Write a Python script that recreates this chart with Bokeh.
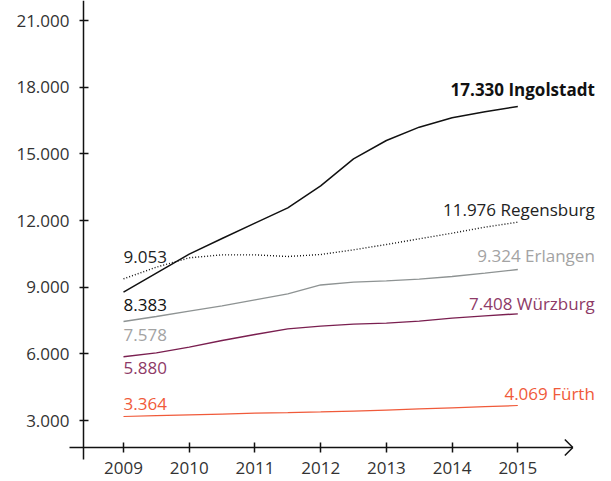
from bokeh.plotting import figure
from bokeh.models import ColumnDataSource, LabelSet, Arrow, FixedTicker
from bokeh.core.properties import value
from bokeh.embed import file_html
from bokeh.resources import INLINE

# ---- data (values read at half-year steps from the drawn curves) ----
t = [2009, 2009.5, 2010, 2010.5, 2011, 2011.5, 2012, 2012.5, 2013, 2013.5, 2014, 2014.5, 2015]
ingolstadt = [8775, 9630, 10485, 11190, 11880, 12570, 13560, 14775, 15600, 16200, 16620, 16890, 17130]
regensburg = [9375, 9900, 10320, 10455, 10455, 10380, 10470, 10680, 10920, 11175, 11430, 11700, 11925]
erlangen = [7455, 7680, 7920, 8160, 8430, 8700, 9100, 9225, 9285, 9360, 9480, 9630, 9795]
wuerzburg = [5866, 6045, 6300, 6600, 6870, 7125, 7245, 7335, 7380, 7470, 7605, 7710, 7800]
fuerth = [3180, 3215, 3255, 3290, 3330, 3355, 3385, 3425, 3470, 3520, 3570, 3620, 3675]

years = [2009, 2010, 2011, 2012, 2013, 2014, 2015]
start_labels = ["8.383", "9.053", "7.578", "5.880", "3.364"]
end_labels = ["17.330 Ingolstadt", "11.976 Regensburg", "9.324 Erlangen", "7.408 Würzburg", "4.069 Fürth"]

y_ticks = [3000, 6000, 9000, 12000, 15000, 18000, 21000]
y_tick_labels = ["3.000", "6.000", "9.000", "12.000", "15.000", "18.000", "21.000"]

# ---- styles / layout ----
FONT = "Open Sans"
FS = "17px"
AX = "#111111"
series = [ingolstadt, regensburg, erlangen, wuerzburg, fuerth]
line_colors = ["#111111", "#111111", "#8e9393", "#7a1f50", "#f05a3a"]
label_colors = ["#111111", "#222222", "#a3a3a3", "#8e3a67", "#f05a3a"]
line_widths = [1.5, 1.4, 1.4, 1.4, 1.2]
line_dashes = ["solid", "1 2", "solid", "solid", "solid"]
start_dy = [-18.4, 15.6, -19.7, -17, 6.7]
end_dy = [10.7, 5.7, 8, 4, 6]

W, H = 611, 481
PX_PER_YEAR = 65.72
PX_VAL = 45.0  # value units per pixel
X_LEFT = 2009 - 123 / PX_PER_YEAR
X_RIGHT = X_LEFT + W / PX_PER_YEAR
Y_TOP = 21000 + 20 * PX_VAL
Y_BOTTOM = Y_TOP - H * PX_VAL
X_AXIS_Y = 3000 - 27 * PX_VAL          # where the x axis sits
Y_AXIS_X = 2009 - 40 / PX_PER_YEAR     # where the y axis sits
XA = 2015 + 55 / PX_PER_YEAR           # tip of x axis arrow

p = figure(width=W, height=H, x_range=(X_LEFT, X_RIGHT), y_range=(Y_BOTTOM, Y_TOP),
           output_backend="svg", toolbar_location=None,
           min_border_left=0, min_border_right=0, min_border_top=0, min_border_bottom=0,
           outline_line_color=None, background_fill_color="white", border_fill_color="white")
p.grid.visible = False

for s, c, w, d in zip(series, line_colors, line_widths, line_dashes):
    p.line(t, s, line_color=c, line_width=w, line_dash=d)

# axes, pinned at fixed positions inside the frame
p.xaxis.ticker = FixedTicker(ticks=years)
p.xaxis.major_label_overrides = {y: str(y) for y in years}
p.yaxis.ticker = FixedTicker(ticks=y_ticks)
p.yaxis.major_label_overrides = dict(zip(y_ticks, y_tick_labels))
p.xaxis.fixed_location = X_AXIS_Y
p.yaxis.fixed_location = Y_AXIS_X
for ax in (p.xaxis[0], p.yaxis[0]):
    ax.axis_line_color = None
    ax.major_tick_line_color = AX
    ax.major_tick_line_width = 1.5
    ax.minor_tick_line_color = None
    ax.major_label_text_font = FONT
    ax.major_label_text_font_size = FS
    ax.major_label_text_color = "#333333"
p.xaxis.major_tick_in = 5
p.xaxis.major_tick_out = 5
p.xaxis.major_label_standoff = 9
p.yaxis.major_tick_in = 5
p.yaxis.major_tick_out = 4
p.yaxis.major_label_standoff = 10

# axis lines: x axis with an open chevron, y axis reaching slightly below the x axis
p.add_layout(Arrow(x_start=Y_AXIS_X - 14 / PX_PER_YEAR, y_start=X_AXIS_Y, x_end=XA, y_end=X_AXIS_Y,
                   end=None, line_width=1.5, line_color=AX))
for sgn in (1, -1):
    p.add_layout(Arrow(x_start=XA - 8 / PX_PER_YEAR, y_start=X_AXIS_Y + sgn * 8 * PX_VAL,
                       x_end=XA, y_end=X_AXIS_Y, end=None, line_width=1.5, line_color=AX))
p.add_layout(Arrow(x_start=Y_AXIS_X, y_start=X_AXIS_Y - 12 * PX_VAL, x_end=Y_AXIS_X, y_end=Y_TOP,
                   end=None, line_width=1.5, line_color=AX))

# start labels
src_start = ColumnDataSource(dict(
    x=[t[0]] * len(series), y=[s[0] for s in series],
    text=start_labels, color=label_colors, dy=start_dy))
p.add_layout(LabelSet(x="x", y="y", text="text", source=src_start, y_offset="dy",
                      text_color="color", text_font=value(FONT), text_font_size=FS,
                      text_align="left", text_baseline="alphabetic"))

# end labels
src_end = ColumnDataSource(dict(
    x=[t[-1]] * 4, y=[s[-1] for s in series[1:]],
    text=end_labels[1:], color=label_colors[1:], dy=end_dy[1:]))
p.add_layout(LabelSet(x="x", y="y", text="text", source=src_end, y_offset="dy", x_offset=77,
                      text_color="color", text_font=value(FONT), text_font_size=FS,
                      text_align="right", text_baseline="alphabetic"))
src_end_bold = ColumnDataSource(dict(
    x=[t[-1]], y=[series[0][-1]], text=end_labels[:1], color=label_colors[:1], dy=end_dy[:1]))
p.add_layout(LabelSet(x="x", y="y", text="text", source=src_end_bold, y_offset="dy", x_offset=77,
                      text_color="color", text_font=value(FONT), text_font_size=FS,
                      text_font_style="bold",
                      text_align="right", text_baseline="alphabetic"))

open("out.html", "w").write(file_html(p, INLINE))
